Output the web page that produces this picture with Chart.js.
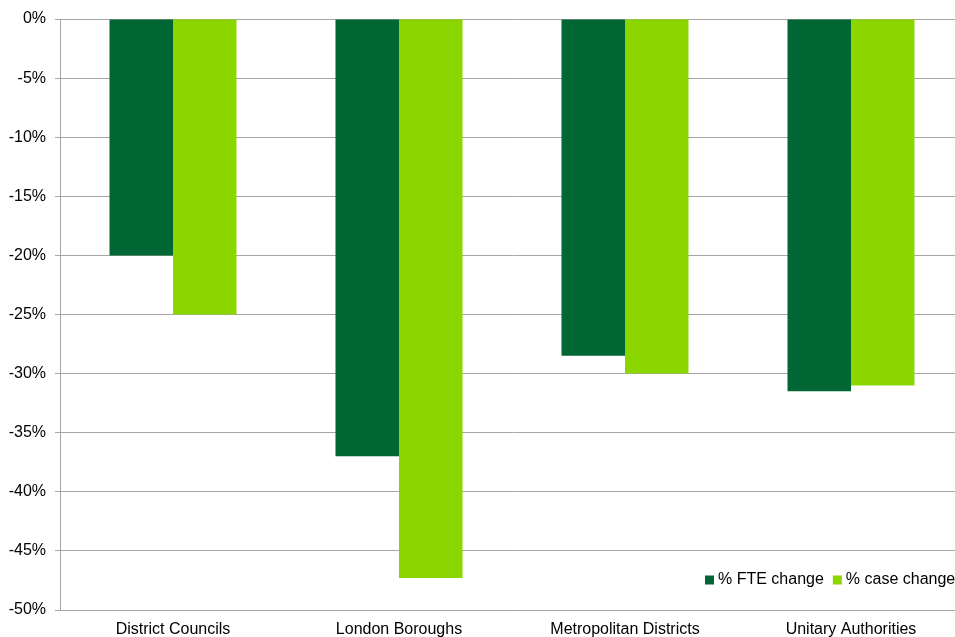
<!DOCTYPE html>
<html>
<head>
<meta charset="utf-8">
<script src="https://cdn.jsdelivr.net/npm/chart.js@4"></script>
<style>
html,body{margin:0;padding:0;overflow:hidden;background:#fff;}
#wrap{width:955px;height:637px;overflow:hidden;position:relative;}
canvas{display:block;}
</style>
</head>
<body>
<div id="wrap"><canvas id="c" width="965" height="637"></canvas></div>
<script>
const categories = ["District Councils", "London Boroughs", "Metropolitan Districts", "Unitary Authorities"];
const fteChange = [-20, -37, -28.5, -31.5];
const caseChange = [-25, -47.3, -30, -31];
const seriesNames = ["% FTE change", "% case change"];
const seriesColors = ["#006633", "#8cd600"];

const FONT = "'Liberation Sans', Arial, sans-serif";

const insideLegend = {
  id: 'insideLegend',
  afterDraw(chart) {
    const ctx = chart.ctx;
    ctx.save();
    ctx.font = "16px " + FONT;
    ctx.textBaseline = 'middle';
    ctx.textAlign = 'left';
    let x = 705;
    const y = 580;
    chart.data.datasets.forEach((ds) => {
      ctx.fillStyle = ds.backgroundColor;
      ctx.fillRect(x, y - 4.5, 9, 9);
      ctx.fillStyle = '#000';
      ctx.fillText(ds.label, x + 13, y);
      x += 13 + ctx.measureText(ds.label).width + 9;
    });
    ctx.restore();
  }
};

new Chart(document.getElementById('c'), {
  type: 'bar',
  data: {
    labels: categories,
    datasets: [
      { label: seriesNames[0], data: fteChange, backgroundColor: seriesColors[0], borderWidth: 0 },
      { label: seriesNames[1], data: caseChange, backgroundColor: seriesColors[1], borderWidth: 0 }
    ]
  },
  options: {
    responsive: false,
    animation: false,
    layout: { padding: { left: 0, right: 1, top: 19, bottom: 0 } },
    plugins: { legend: { display: false }, tooltip: { enabled: false } },
    datasets: { bar: { categoryPercentage: 0.562, barPercentage: 1.0 } },
    scales: {
      x: {
        grid: { display: false, drawTicks: false },
        border: { display: false },
        ticks: { color: '#000', font: { family: FONT, size: 16 }, padding: 10, maxRotation: 0 },
        afterFit(s) { s.height = 27; }
      },
      y: {
        min: -50, max: 0,
        ticks: { stepSize: 5, color: '#000', font: { family: FONT, size: 16 }, padding: 9,
                 callback: (v) => v + '%' },
        grid: { color: '#a6a6a6', lineWidth: 1, tickLength: 5 },
        border: { display: true, color: '#a6a6a6', width: 1 },
        afterFit(s) { s.width = 60; }
      }
    }
  },
  plugins: [insideLegend]
});
</script>
</body>
</html>
